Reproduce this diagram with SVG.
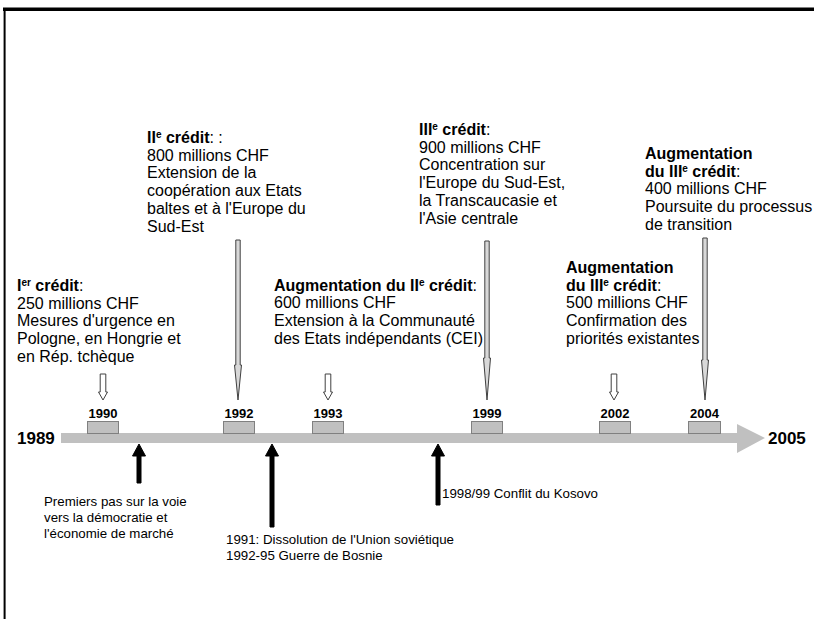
<svg xmlns="http://www.w3.org/2000/svg" width="814" height="619" viewBox="0 0 814 619">
<style>
text{font-family:"Liberation Sans",Arial,sans-serif;fill:#000}
.t{font-size:16px}
.b{font-weight:bold}
.s{font-size:10px}
.yr{font-size:13px;font-weight:bold;text-anchor:middle}
.end{font-size:17px;font-weight:bold}
.ev{font-size:13.3px}
.box{fill:#c0c0c0;stroke:#808080;stroke-width:1}
.dn{fill:#fff;stroke:#404040;stroke-width:1}
.ln{fill:#d8d8d8;stroke:#404040;stroke-width:1}
.up{fill:#000;stroke:#000;stroke-width:1}
</style>
<rect width="814" height="619" fill="#fff"/>
<g id="frame">
<line x1="3" y1="9.2" x2="814" y2="9.2" stroke="#000" stroke-width="3.6"/>
<line x1="4.6" y1="9" x2="4.6" y2="619" stroke="#000" stroke-width="2"/>
</g>
<g id="timeline">
<polygon points="61,433 737,433 737,424 765,438 737,453 737,443 61,443" fill="#c0c0c0"/>
<text class="end" x="17" y="444">1989</text>
<text class="end" x="768" y="444">2005</text>
</g>
<g id="y1990"><rect class="box" x="87.5" y="421.5" width="31" height="12"/><text class="yr" x="103" y="418">1990</text></g>
<g id="y1992"><rect class="box" x="223.5" y="421.5" width="31" height="12"/><text class="yr" x="239" y="418">1992</text></g>
<g id="y1993"><rect class="box" x="312.5" y="421.5" width="31" height="12"/><text class="yr" x="328" y="418">1993</text></g>
<g id="y1999"><rect class="box" x="471.5" y="421.5" width="31" height="12"/><text class="yr" x="487" y="418">1999</text></g>
<g id="y2002"><rect class="box" x="599.5" y="421.5" width="31" height="12"/><text class="yr" x="615" y="418">2002</text></g>
<g id="y2004"><rect class="box" x="688.5" y="421.5" width="32" height="12"/><text class="yr" x="704.5" y="418">2004</text></g>

<g id="connectors">
<polygon class="dn" points="100.2,374 105.8,374 105.8,392 107.5,392 103,400 98.5,392 100.2,392"/>
<polygon class="dn" points="325.2,374 330.8,374 330.8,392 332.5,392 328,400 323.5,392 325.2,392"/>
<polygon class="dn" points="611.2,374 616.8,374 616.8,392 618.5,392 614,400 609.5,392 611.2,392"/>
<polygon class="ln" points="235.8,240 240.2,240 240.2,365 241.5,365 238,400 234.5,365 235.8,365"/>
<polygon class="ln" points="484.8,241 489.2,241 489.2,358 490.5,358 487,400 483.5,358 484.8,358"/>
<polygon class="ln" points="702.8,238 707.2,238 707.2,360 708.5,360 705,400 701.5,360 702.8,360"/>
<polygon class="up" points="139,444 145.5,456 141,456 141,483 137,483 137,456 132.5,456"/>
<polygon class="up" points="272,444 278.5,456 274,456 274,527 270,527 270,456 265.5,456"/>
<polygon class="up" points="438,444 444.5,456 440,456 440,505 436,505 436,456 431.5,456"/>
</g>

<g id="credit1">
<text class="t" x="17" y="291"><tspan class="b">I</tspan><tspan class="b s" dy="-5">er</tspan><tspan class="b" dy="5"> crédit</tspan>:</text>
<text class="t" x="17" y="308.7">250 millions CHF</text>
<text class="t" x="17" y="326.4">Mesures d'urgence en</text>
<text class="t" x="17" y="344.1">Pologne, en Hongrie et</text>
<text class="t" x="17" y="361.8">en Rép. tchèque</text>
</g>
<g id="credit2">
<text class="t" x="147" y="143"><tspan class="b">II</tspan><tspan class="b s" dy="-5">e</tspan><tspan class="b" dy="5"> crédit</tspan>: :</text>
<text class="t" x="147" y="160.7">800 millions CHF</text>
<text class="t" x="147" y="178.4">Extension de la</text>
<text class="t" x="147" y="196.1">coopération aux Etats</text>
<text class="t" x="147" y="213.8">baltes et à l'Europe du</text>
<text class="t" x="147" y="231.5">Sud-Est</text>
</g>
<g id="credit2aug">
<text class="t" x="274" y="290.5"><tspan class="b">Augmentation du II</tspan><tspan class="b s" dy="-5">e</tspan><tspan class="b" dy="5"> crédit</tspan>:</text>
<text class="t" x="274" y="308.2">600 millions CHF</text>
<text class="t" x="274" y="325.9">Extension à la Communauté</text>
<text class="t" x="274" y="343.6">des Etats indépendants (CEI)</text>
</g>
<g id="credit3">
<text class="t" x="419" y="135"><tspan class="b">III</tspan><tspan class="b s" dy="-5">e</tspan><tspan class="b" dy="5"> crédit</tspan>:</text>
<text class="t" x="419" y="152.7">900 millions CHF</text>
<text class="t" x="419" y="170.4">Concentration sur</text>
<text class="t" x="419" y="188.1">l'Europe du Sud-Est,</text>
<text class="t" x="419" y="205.8">la Transcaucasie et</text>
<text class="t" x="419" y="223.5">l'Asie centrale</text>
</g>
<g id="credit3aug1">
<text class="t b" x="566" y="273">Augmentation</text>
<text class="t" x="566" y="290.7"><tspan class="b">du III</tspan><tspan class="b s" dy="-5">e</tspan><tspan class="b" dy="5"> crédit</tspan>:</text>
<text class="t" x="566" y="308.4">500 millions CHF</text>
<text class="t" x="566" y="326.1">Confirmation des</text>
<text class="t" x="566" y="343.8">priorités existantes</text>
</g>
<g id="credit3aug2">
<text class="t b" x="645" y="159">Augmentation</text>
<text class="t" x="645" y="176.7"><tspan class="b">du III</tspan><tspan class="b s" dy="-5">e</tspan><tspan class="b" dy="5"> crédit</tspan>:</text>
<text class="t" x="645" y="194.4">400 millions CHF</text>
<text class="t" x="645" y="212.1">Poursuite du processus</text>
<text class="t" x="645" y="229.8">de transition</text>
</g>
<g id="event1">
<text class="ev" x="44" y="506">Premiers pas sur la voie</text>
<text class="ev" x="44" y="522">vers la démocratie et</text>
<text class="ev" x="44" y="538">l'économie de marché</text>
</g>
<g id="event2">
<text class="ev" x="226" y="544">1991: Dissolution de l'Union soviétique</text>
<text class="ev" x="226" y="560">1992-95 Guerre de Bosnie</text>
</g>
<g id="event3">
<text class="ev" x="442" y="498">1998/99 Conflit du Kosovo</text>
</g>
</svg>
